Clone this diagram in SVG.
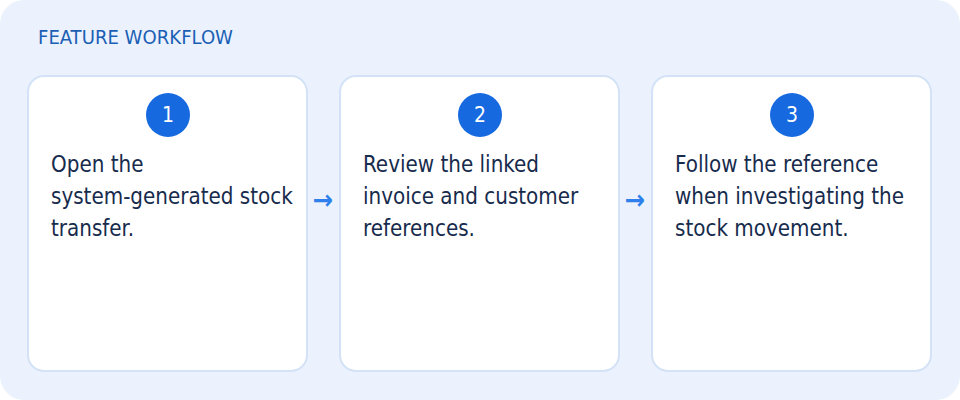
<svg xmlns="http://www.w3.org/2000/svg" width="960" height="400" viewBox="0 0 960 400">
<style>
.card{fill:#fff;stroke:#d4e2f7;stroke-width:2}
.num{fill:#fff;font:21px "DejaVu Sans Condensed",sans-serif;text-anchor:middle}
.t{fill:#172b4d;font:22.2px "DejaVu Sans Condensed",sans-serif}
.arr{fill:#2f80ed;font:bold 27px "DejaVu Sans Condensed",sans-serif;text-anchor:middle}
</style>
<rect x="0" y="0" width="960" height="400" rx="24" fill="#ebf2fe"/>
<text x="38" y="44" font-family="DejaVu Sans Condensed,sans-serif" font-size="20.1" fill="#1a5fb4">FEATURE WORKFLOW</text>
<g id="step1">
<rect class="card" x="28" y="76" width="279" height="295" rx="16"/>
<circle cx="168" cy="115" r="22" fill="#1769e0"/>
<text class="num" x="168" y="122">1</text>
<text class="t" x="51" y="172">Open the</text>
<text class="t" x="51" y="204">system-generated stock</text>
<text class="t" x="51" y="236">transfer.</text>
</g>
<g id="step2">
<rect class="card" x="340" y="76" width="279" height="295" rx="16"/>
<circle cx="480" cy="115" r="22" fill="#1769e0"/>
<text class="num" x="480" y="122">2</text>
<text class="t" x="363" y="172">Review the linked</text>
<text class="t" x="363" y="204">invoice and customer</text>
<text class="t" x="363" y="236">references.</text>
</g>
<g id="step3">
<rect class="card" x="652" y="76" width="279" height="295" rx="16"/>
<circle cx="792" cy="115" r="22" fill="#1769e0"/>
<text class="num" x="792" y="122">3</text>
<text class="t" x="675" y="172">Follow the reference</text>
<text class="t" x="675" y="204">when investigating the</text>
<text class="t" x="675" y="236">stock movement.</text>
</g>
<g id="connectors">
<text class="arr" x="323" y="209">→</text>
<text class="arr" x="635" y="209">→</text>
</g>
</svg>
